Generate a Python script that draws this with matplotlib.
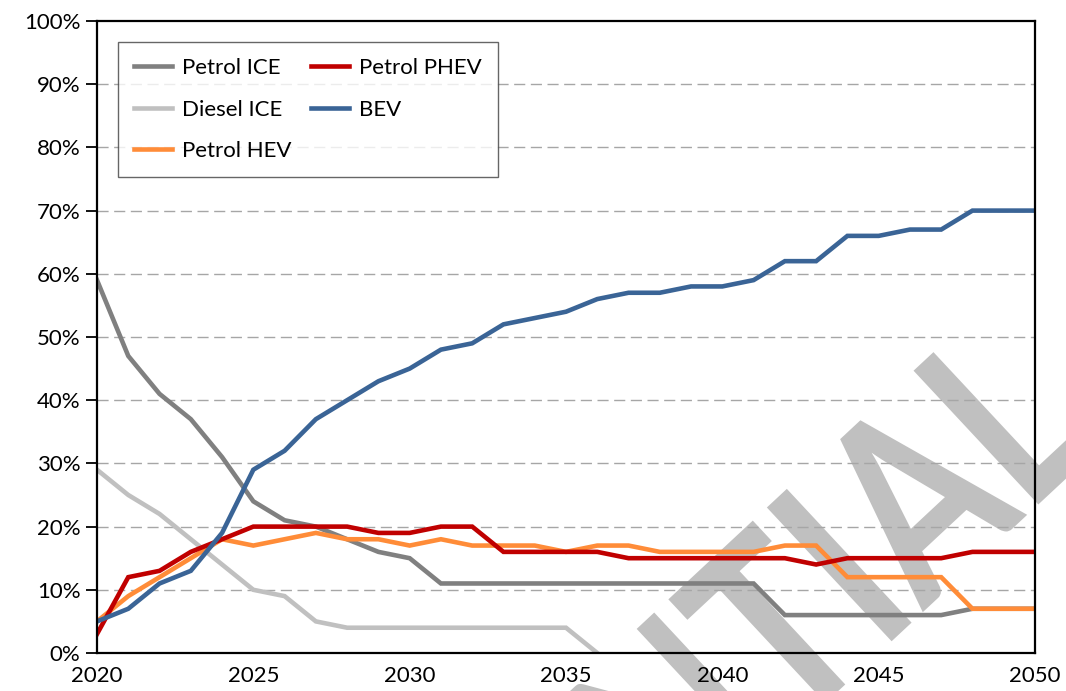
import matplotlib
matplotlib.use("Agg")
import matplotlib.pyplot as plt
from matplotlib.ticker import FuncFormatter
from matplotlib.textpath import TextPath
from matplotlib.patches import PathPatch
from matplotlib.font_manager import FontProperties
from matplotlib.transforms import Affine2D

plt.rcParams['font.family'] = ['Lato', 'DejaVu Sans']

years = list(range(2020, 2051))

petrol_ice = [59, 47, 41, 37, 31, 24, 21, 20, 18, 16, 15, 11, 11, 11, 11, 11,
              11, 11, 11, 11, 11, 11, 6, 6, 6, 6, 6, 6, 7, 7, 7]
diesel_ice = [29, 25, 22, 18, 14, 10, 9, 5, 4, 4, 4, 4, 4, 4, 4, 4,
              0, None, None, None, None, None, None, None, None, None, None, None, None, None, None]
petrol_hev = [5, 9, 12, 15, 18, 17, 18, 19, 18, 18, 17, 18, 17, 17, 17, 16,
              17, 17, 16, 16, 16, 16, 17, 17, 12, 12, 12, 12, 7, 7, 7]
petrol_phev = [3, 12, 13, 16, 18, 20, 20, 20, 20, 19, 19, 20, 20, 16, 16, 16,
               16, 15, 15, 15, 15, 15, 15, 14, 15, 15, 15, 15, 16, 16, 16]
bev = [5, 7, 11, 13, 19, 29, 32, 37, 40, 43, 45, 48, 49, 52, 53, 54,
       56, 57, 57, 58, 58, 59, 62, 62, 66, 66, 67, 67, 70, 70, 70]

series = [
    ("Petrol ICE", petrol_ice, "#808080"),
    ("Diesel ICE", diesel_ice, "#C0C0C0"),
    ("Petrol HEV", petrol_hev, "#FF8C38"),
    ("Petrol PHEV", petrol_phev, "#C00000"),
    ("BEV", bev, "#3A6496"),
]

fig = plt.figure(figsize=(10.66, 6.91), dpi=100)
ax = fig.add_axes([97 / 1066, 38 / 691, 938 / 1066, 632 / 691])
ax.set_facecolor('none')

# watermark behind everything (narrowed a bit, like the original's font)
wm = TextPath((0, 0), "CONFIDENTIAL", size=253,
              prop=FontProperties(family='Lato', weight='bold'))
wm_right = wm.get_extents().x1
wm_tr = (Affine2D().translate(-wm_right, 0).scale(0.8, 1)
         .rotate_deg(43).translate(1101, 245))
fig.add_artist(PathPatch(wm, transform=wm_tr, fc='#C0C0C0', ec='none', zorder=-1))

for name, vals, col in series:
    y = [v / 100 if v is not None else float('nan') for v in vals]
    ax.plot(years, y, color=col, lw=3.3, label=name, solid_joinstyle='miter')

ax.set_xlim(2020, 2050)
ax.set_ylim(0, 1)
ax.set_xticks(range(2020, 2051, 5))
ax.set_yticks([i / 10 for i in range(11)])
ax.yaxis.set_major_formatter(FuncFormatter(lambda v, p: f"{v*100:.0f}%"))
ax.tick_params(axis='y', direction='out', length=8, width=1.3, labelsize=16, pad=4)
ax.tick_params(axis='x', length=0, labelsize=16, pad=9)

for v in range(1, 10):
    ax.axhline(v / 10, color='#A6A6A6', lw=1, ls=(0, (8, 4)), zorder=0.5)

for s in ax.spines.values():
    s.set_linewidth(1.6)
    s.set_color('black')

leg = ax.legend(loc='upper left', bbox_to_anchor=(118 / 1066, 1 - 42 / 691),
                bbox_transform=fig.transFigure, ncol=2, fontsize=16,
                frameon=True, fancybox=False, borderaxespad=0,
                handlelength=1.7, handletextpad=0.45, columnspacing=0.9,
                labelspacing=0.97, borderpad=0.72)
leg.get_frame().set_edgecolor('#404040')
leg.get_frame().set_linewidth(1)

fig.savefig("out.png", dpi=100, facecolor='white')
